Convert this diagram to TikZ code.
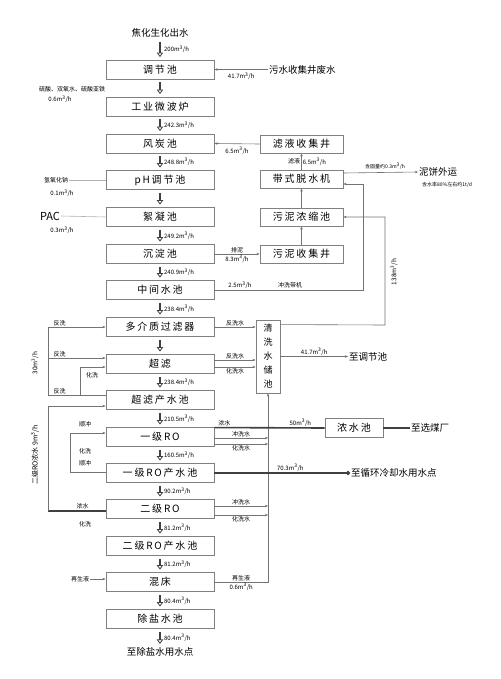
\documentclass[tikz,border=0pt]{standalone}
\usepackage{fontspec}
\setmainfont{Noto Sans CJK SC}
\newfontfamily\boxfont[LetterSpace=18]{Noto Sans CJK SC}
\usetikzlibrary{arrows.meta}
\newcommand{\mh}[1]{#1m\textsuperscript{3}/h}
\begin{document}
\begin{tikzpicture}[x=1pt,y=-1pt,
 box/.style={draw=black!50, line width=0.9pt, minimum width=108pt, minimum height=19pt, inner sep=0pt, font=\boxfont\fontsize{10}{10}\selectfont},
 sbox/.style={box, minimum width=83pt, minimum height=18pt},
 lab/.style={font=\fontsize{6}{6}\selectfont, inner sep=1pt},
 txt/.style={font=\fontsize{9.5}{9.5}\selectfont, inner sep=1pt},
 flow/.style={draw=black!75, line width=1.3pt, -{Triangle[open,length=4.5pt,width=6.5pt,line width=0.8pt]}, shorten <=3pt, shorten >=2.5pt},
 ln/.style={draw=black!55, line width=0.6pt},
 arr/.style={ln, -{Stealth[length=3pt,width=2.5pt]}},
 heavy/.style={draw=black!75, line width=1.6pt}
]
\useasboundingbox (0,0) rectangle (500,679);
\fill[white] (0,0) rectangle (500,679);

% main column
\node[txt] (t0) at (160,33) {焦化生化出水};
\node[box] (b1) at (160,69.5) {调节池};
\node[box] (b2) at (160,106.5) {工业微波炉};
\node[box] (b3) at (160,143.5) {风炭池};
\node[box] (b4) at (160,180) {pH调节池};
\node[box] (b5) at (160,217) {絮凝池};
\node[box] (b6) at (160,254) {沉淀池};
\node[box] (b7) at (160,290) {中间水池};
\node[box] (b8) at (160,327) {多介质过滤器};
\node[box] (b9) at (160,364) {超滤};
\node[box] (b10) at (160,400) {超滤产水池};
\node[box] (b11) at (160,437) {一级RO};
\node[box] (b12) at (160,473) {一级RO产水池};
\node[box] (b13) at (160,509) {二级RO};
\node[box] (b14) at (160,546) {二级RO产水池};
\node[box] (b15) at (160,582) {混床};
\node[box] (b16) at (160,619) {除盐水池};
\node[txt] (t1) at (160,652) {至除盐水用水点};

\draw[flow] (t0.south) -- node[lab,right=2.5pt]{\mh{200}} (b1.north);
\draw[flow] (b1.south) -- (b2.north);
\draw[flow] (b2.south) -- node[lab,right=2.5pt]{\mh{242.3}} (b3.north);
\draw[flow] (b3.south) -- node[lab,right=2.5pt]{\mh{248.8}} (b4.north);
\draw[flow] (b4.south) -- (b5.north);
\draw[flow] (b5.south) -- node[lab,right=2.5pt]{\mh{249.2}} (b6.north);
\draw[flow] (b6.south) -- node[lab,right=2.5pt]{\mh{240.9}} (b7.north);
\draw[flow] (b7.south) -- node[lab,right=2.5pt]{\mh{238.4}} (b8.north);
\draw[flow] (b8.south) -- (b9.north);
\draw[flow] (b9.south) -- node[lab,right=2.5pt]{\mh{238.4}} (b10.north);
\draw[flow] (b10.south) -- node[lab,right=2.5pt]{\mh{210.5}} (b11.north);
\draw[flow] (b11.south) -- node[lab,right=2.5pt]{\mh{160.5}} (b12.north);
\draw[flow] (b12.south) -- node[lab,right=2.5pt]{\mh{90.2}} (b13.north);
\draw[flow] (b13.south) -- node[lab,right=2.5pt]{\mh{81.2}} (b14.north);
\draw[flow] (b14.south) -- node[lab,right=2.5pt]{\mh{81.2}} (b15.north);
\draw[flow] (b15.south) -- node[lab,right=2.5pt]{\mh{80.4}} (b16.north);
\draw[flow] (b16.south) -- node[lab,right=2.5pt]{\mh{80.4}} (t1.north);

% dosing on the left
\node[lab] (d1) at (72,89) {硫酸、双氧水、硫酸亚铁};
\node[lab] at (60,99) {\mh{0.6}};
\node[lab] (d2) at (56,180) {氢氧化钠};
\node[lab] at (62,193) {\mh{0.1}};
\draw[ln,draw=black!30] (d2.east) -- (b4.west);
\node[txt,font=\fontsize{11}{11}\selectfont] (d3) at (50,216) {PAC};
\node[lab] at (62,230) {\mh{0.3}};
\draw[ln,draw=black!30] (d3.east) -- (b5.west);

% right side sludge train
\node[sbox] (s1) at (301.5,144) {滤液收集井};
\node[sbox] (s2) at (301.5,179) {带式脱水机};
\node[sbox] (s3) at (301.5,217) {污泥浓缩池};
\node[sbox] (s4) at (301.5,254) {污泥收集井};
\node[txt,anchor=west] (w) at (268,69.5) {污水收集井废水};
\draw[arr] (w.west) -- node[lab,below=2pt]{\mh{41.7}} (b1.east);
\draw[arr] (s1.west) -- node[lab,below=2pt]{\mh{6.5}} (b3.east);
\draw[arr] (s2.north) -- node[lab,left]{滤液} node[lab,right]{\mh{6.5}} (s1.south);
\draw[arr] (s4.north) -- (s3.south);
\draw[arr] (s3.north) -- (s2.south);
\draw[arr] (b6.east) -- node[lab,above]{排泥} node[lab,below]{\mh{8.3}} (s4.west);
\coordinate (c1) at (363,290);
\coordinate (c2) at (363,184);
\draw[arr] (b7.east) -- (c1) -- (c2) -- (s2.east |- c2);
\node[lab] at (240,285) {\mh{2.5}};
\node[lab] at (290,285) {冲洗带机};
\node[txt,anchor=west] (cake) at (418,172) {泥饼外运};
\draw[arr] ([yshift=6pt]s2.east) -- (cake.west);
\node[lab,font=\fontsize{5}{5}\selectfont] at (385,166) {含固量约\mh{0.3}};
\node[lab,font=\fontsize{5}{5}\selectfont] at (447,185) {含水率80\%左右约1t/d};

% cleaning water tank
\node[draw=black!50, line width=0.9pt, minimum width=24pt, minimum height=73pt, inner sep=0pt, align=center, font=\fontsize{9}{14}\selectfont] (v) at (268,356.5) {清\\洗\\水\\储\\池};
\draw[arr] (b8.east) -- node[lab,above]{反洗水} (b8.east -| v.west);
\draw[arr] ([yshift=4pt]b9.east) -- node[lab,above]{反洗水} ([yshift=4pt]b9.east -| v.west);
\draw[arr] ([yshift=-3pt]b9.east) -- node[lab,below]{化洗水} ([yshift=-3pt]b9.east -| v.west);
\node[txt,anchor=west] (tj) at (348,356.5) {至调节池};
\draw[arr] (v.east) -- node[lab,above]{\mh{41.7}} (tj.west);
\coordinate (o1) at (385,325);
\coordinate (o2) at (385,217);
\draw[arr] ([yshift=-5pt]v.north east) -- (o1) -- (o2) -- (s3.east);
\node[lab,rotate=90,font=\fontsize{6.5}{6.5}\selectfont] at (394,272) {\mh{138}};

% collection line below tank
\coordinate (vb) at (v.south |- b15.east);
\draw[arr] (b15.east) -- node[lab,above]{再生液} node[lab,below]{\mh{0.6}} (vb) -- (v.south);
\draw[arr] ([yshift=-1pt]b11.east) -- node[lab,above]{冲洗水} ([yshift=-1pt]b11.east -| vb);
\draw[arr] ([yshift=-7pt]b11.east) -- node[lab,below]{化洗水} ([yshift=-7pt]b11.east -| vb);
\draw[arr] ([yshift=3pt]b13.east) -- node[lab,above]{冲洗水} ([yshift=3pt]b13.east -| vb);
\draw[arr] ([yshift=-6pt]b13.east) -- node[lab,below]{化洗水} ([yshift=-6pt]b13.east -| vb);

% concentrate
\node[sbox, minimum width=58pt, minimum height=19pt] (c) at (354,428) {浓水池};
\draw[heavy] ([yshift=-0.5pt]b11.north east) -- node[lab,above,pos=0.09]{浓水} node[lab,above,pos=0.78]{\mh{50}} (c.west);
\node[txt,anchor=west] (xm) at (410,428) {至选煤厂};
\draw[heavy] (c.east) -- (xm.west);
\node[txt,anchor=west] (xh) at (350,473) {至循环冷却水用水点};
\draw[heavy, -{Circle[open,length=4pt]}] (b12.east) -- node[lab,above,pos=0.56]{\mh{70.3}} (xh.west);

% left backwash loops
\coordinate (L1) at (48,327);
\coordinate (L2) at (48,358);
\coordinate (L3) at (48,395);
\coordinate (L4) at (80,395);
\coordinate (L5) at (80,367);
\draw[ln] ([yshift=5pt]b10.west) -- node[lab,above,pos=0.8]{反洗} (L3) -- (L1);
\draw[arr] (L1) -- node[lab,above,pos=0.2]{反洗} (b8.west);
\draw[arr] (L2) -- node[lab,above,pos=0.2]{反洗} ([yshift=6pt]b9.west);
\draw[arr] (L4) -- (L5) -- ([yshift=-3pt]b9.west);
\node[lab] at (92,375) {化洗};
\node[lab,rotate=90,font=\fontsize{6.5}{6.5}\selectfont] at (35,363) {\mh{30}};

% second RO concentrate return
\coordinate (L6) at (48,511);
\coordinate (L7) at (48,406);
\draw[heavy] ([yshift=-2pt]b13.west) -- node[lab,above,pos=0.4]{浓水} (L6);
\draw[arr] (L6) -- (L7) -- ([yshift=-6pt]b10.west);
\node[lab,rotate=90,font=\fontsize{7}{7}\selectfont] at (35,455) {二级RO浓水 \mh{9}};

% RO flushing loop
\coordinate (R1) at (70,472);
\coordinate (R2) at (70,433);
\draw[arr] ([yshift=1pt]b12.west) -- (R1) -- (R2) -- ([yshift=4pt]b11.west);
\node[lab] at (85,424) {顺冲};
\node[lab] at (85,451) {化洗};
\node[lab] at (85,463) {顺冲};
\node[lab] at (85,524) {化洗};

% regeneration on left
\node[lab] (zl) at (80,579) {再生液};
\draw[arr] (zl.east) -- (b15.west |- zl.east);
\end{tikzpicture}
\end{document}
